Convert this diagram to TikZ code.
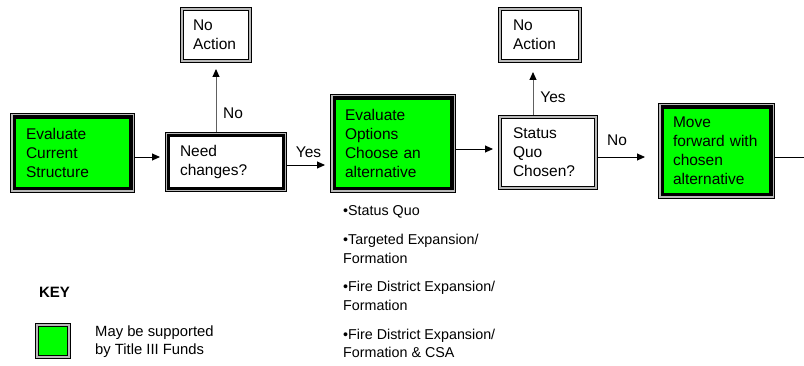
\documentclass[tikz,border=0pt]{standalone}
\usepackage{fontspec}
\setmainfont{Liberation Sans}
\usetikzlibrary{arrows.meta}
\newcommand{\boxfont}{\fontsize{15.5pt}{19pt}\selectfont}
\newcommand{\listfont}{\fontsize{14.3pt}{18.7pt}\selectfont}
\newcommand{\keyfont}{\fontsize{14.8pt}{18pt}\selectfont}

\begin{document}
\begin{tikzpicture}[x=1pt,y=-1pt,
  box/.style={rectangle,align=left,inner sep=0pt,font=\boxfont},
  greenbox/.style={box,fill=green,draw=black,line width=3.5pt,outer sep=4.25pt,
    preaction={draw=black,line width=8.5pt},preaction={draw=gray!55,line width=6.5pt}},
  askbox/.style={box,fill=white,draw=black,line width=3pt,outer sep=3.5pt,
    preaction={draw=black,line width=7pt},preaction={draw=gray!55,line width=5pt}},
  plainbox/.style={box,fill=white,draw=black,line width=1pt,outer sep=3.5pt,
    preaction={draw=black,line width=7pt},preaction={draw=gray!55,line width=5pt}},
  lbl/.style={inner sep=0pt,font=\boxfont},
  arr/.style={draw=black,line width=0.9pt,-{Triangle[length=8pt,width=7pt]}},
  uparr/.style={draw=gray!75!black,line width=1pt,-{Triangle[length=8pt,width=7pt,black]}}]
\useasboundingbox (0,0) rectangle (804,366);
\node[greenbox,minimum width=116.5pt,minimum height=71.5pt,text width=93pt] (cur) at (72.5,153) {Evaluate\\Current\\Structure};
\node[askbox,minimum width=115pt,minimum height=53pt,text width=92pt] (need) at (226,162) {Need\\changes?};
\node[greenbox,minimum width=117.5pt,minimum height=90.5pt,text width=96pt] (opt) at (393,143.5) {Evaluate\\Options\\Choose an\\alternative};
\node[plainbox,minimum width=93pt,minimum height=68pt,text width=70pt] (sq) at (548,152.5) {Status\\Quo\\Chosen?};
\node[greenbox,minimum width=108.5pt,minimum height=87.5pt,text width=87pt] (mov) at (716.5,151) {Move\\forward with\\chosen\\alternative};
\node[plainbox,minimum width=65pt,minimum height=49pt,text width=46pt] (na1) at (216,35) {No\\Action};
\node[plainbox,minimum width=77pt,minimum height=49pt,text width=54pt] (na2) at (540,35) {No\\Action};
\node[anchor=north west,inner sep=0pt,align=left,font=\listfont] (opts) at (343,205.5) {•Status Quo\\[10pt]•Targeted Expansion/\\Formation\\[10pt]•Fire District Expansion/\\Formation\\[10pt]•Fire District Expansion/\\Formation \& CSA};
\node[inner sep=0pt,font=\fontsize{15pt}{18pt}\selectfont\bfseries] (key) at (54.5,292) {KEY};
\node[plainbox,fill=green,minimum width=29pt,minimum height=29pt] (keybox) at (53,341) {};
\node[anchor=west,inner sep=0pt,align=left,font=\keyfont] (keytxt) at (95,342) {May be supported\\by Title III Funds};
\draw[arr,shorten >=5pt] (cur.east |- 0,157) -- (need.west |- 0,157);
\draw[arr,shorten >=5pt] (need.east |- 0,165) -- (opt.west |- 0,165);
\draw[arr,shorten >=5pt] (opt.east |- 0,149) -- (sq.west |- 0,149);
\draw[arr,shorten >=13pt] (sq.east |- 0,157) -- (mov.west |- 0,157);
\coordinate (out) at (804,157);
\draw[line width=0.9pt] (mov.east |- out) -- (out);
\draw[uparr,shorten >=6pt] (need.north -| na1) -- (na1);
\draw[uparr,shorten >=9pt] ([xshift=-15pt]sq.north) -- ([xshift=-7pt]na2.south);
\node[lbl] (no1) at (233,113) {No};
\node[lbl] (yes1) at (308.5,152) {Yes};
\node[lbl] (yes2) at (553,97) {Yes};
\node[lbl] (no2) at (617,140) {No};
\end{tikzpicture}
\end{document}
